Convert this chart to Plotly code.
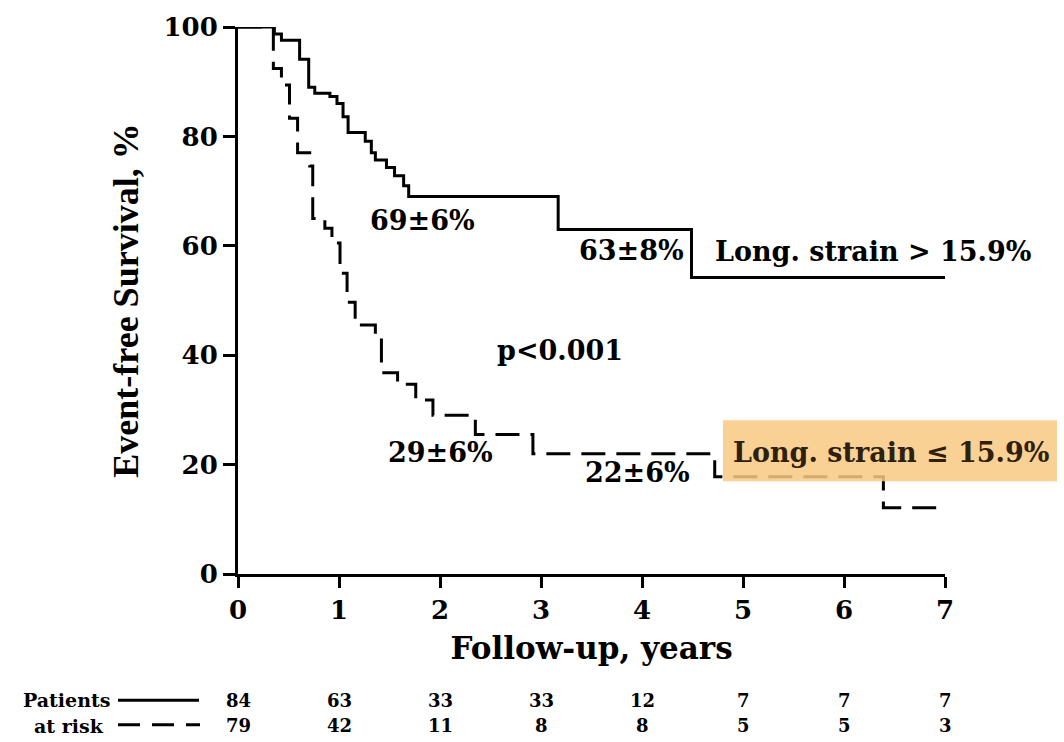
import plotly.graph_objects as go

# Kaplan-Meier step data (years, event-free survival %)
solid_t = [0, 0.36, 0.43, 0.61, 0.70, 0.76, 0.91, 0.98, 1.04, 1.09, 1.26, 1.32,
           1.36, 1.47, 1.55, 1.64, 1.69, 3.17, 4.49, 7.0]
solid_s = [100, 98.7, 97.6, 94.1, 89.0, 87.9, 87.3, 86.0, 83.6, 80.7, 79.1, 77.0,
           75.7, 74.3, 72.8, 71.0, 69.0, 63.0, 54.2, 54.2]

dashed_t = [0, 0.35, 0.43, 0.51, 0.59, 0.71, 0.74, 0.86, 0.93, 1.01, 1.08, 1.16,
            1.36, 1.42, 1.58, 1.76, 1.93, 2.35, 2.92, 4.72, 6.39, 7.0]
dashed_s = [100, 92.4, 89.4, 83.3, 77.0, 74.6, 65.0, 63.2, 60.5, 55.0, 49.7, 45.5,
            43.4, 36.8, 34.7, 31.8, 29.0, 25.5, 22.0, 17.8, 12.1, 12.1]

# Numbers at risk
risk_years = [0, 1, 2, 3, 4, 5, 6, 7]
risk_solid = [84, 63, 33, 33, 12, 7, 7, 7]
risk_dashed = [79, 42, 11, 8, 8, 5, 5, 3]

x_ticks = [0, 1, 2, 3, 4, 5, 6, 7]
y_ticks = [0, 20, 40, 60, 80, 100]

SERIF = "DejaVu Serif"
TITLE_FONT = "Liberation Serif"

# plot-area geometry in pixels
W, H = 1064, 742
L, R, T, B = 238, 945, 19, 574


def px_x(p):
    return (p - L) / (R - L)


def px_y(p):
    return (B - p) / (B - T)


fig = go.Figure()

fig.add_trace(go.Scatter(
    x=solid_t, y=solid_s, mode="lines", line_shape="hv",
    line=dict(color="black", width=3), cliponaxis=False,
    name="Long. strain > 15.9%", showlegend=False))

fig.add_trace(go.Scatter(
    x=dashed_t, y=dashed_s, mode="lines", line_shape="hv",
    line=dict(color="black", width=3, dash="24px,11px"), cliponaxis=False,
    name="Long. strain ≤ 15.9%", showlegend=False))

ann = []
tfont = dict(family=SERIF, size=27, color="black", weight="bold")


def label(text, x, y, xanchor="center", font=tfont):
    ann.append(dict(text=text, x=x, y=y, xref="x", yref="y", showarrow=False,
                    xanchor=xanchor, yanchor="middle", font=font))


label("69±6%", 1.83, 64.7)
label("63±8%", 3.90, 59.1)
label("Long. strain > 15.9%", 4.70, 58.9, xanchor="left")
label("p<0.001", 3.19, 40.9)
label("29±6%", 2.0, 22.2)
label("22±6%", 3.96, 18.5)
label("Long. strain ≤ 15.9%", 4.88, 22.2, xanchor="left",
      font=dict(family=SERIF, size=27, color="#2e200c", weight="bold"))

# numbers-at-risk table
nfont = dict(family=SERIF, size=18, color="black", weight="bold")
for yr, a, b in zip(risk_years, risk_solid, risk_dashed):
    ann.append(dict(text=str(a), x=yr, y=px_y(702), xref="x", yref="paper",
                    showarrow=False, xanchor="center", yanchor="middle", font=nfont))
    ann.append(dict(text=str(b), x=yr, y=px_y(728), xref="x", yref="paper",
                    showarrow=False, xanchor="center", yanchor="middle", font=nfont))
ann.append(dict(text="Patients", x=px_x(112), y=px_y(702), xref="paper", yref="paper",
                showarrow=False, xanchor="right", yanchor="middle",
                font=dict(family=SERIF, size=19, color="black", weight="bold")))
ann.append(dict(text="at risk", x=px_x(106), y=px_y(728), xref="paper", yref="paper",
                showarrow=False, xanchor="right", yanchor="middle",
                font=dict(family=SERIF, size=19, color="black", weight="bold")))

shapes = [
    # highlight behind the lower-curve label (reaches past the plot edge)
    dict(type="rect", xref="paper", yref="paper", x0=px_x(723), x1=px_x(1057),
         y0=px_y(480), y1=px_y(418),
         fillcolor="#F9C983", opacity=0.85, line=dict(width=0), layer="above"),
    # line-style keys of the at-risk table
    dict(type="line", xref="paper", yref="paper", x0=px_x(118), x1=px_x(199),
         y0=px_y(702), y1=px_y(702), line=dict(color="black", width=3)),
    dict(type="line", xref="paper", yref="paper", x0=px_x(118), x1=px_x(200),
         y0=px_y(727), y1=px_y(727), line=dict(color="black", width=3, dash="22px,12px")),
]

fig.update_layout(
    width=W, height=H,
    margin=dict(l=L, r=W - R, t=T, b=H - B),
    paper_bgcolor="white", plot_bgcolor="white",
    annotations=ann, shapes=shapes,
    xaxis=dict(range=[0, 7], tickvals=x_ticks, showgrid=False, zeroline=False,
               showline=True, linecolor="black", linewidth=3,
               ticks="outside", ticklen=11, tickwidth=3, tickcolor="black",
               tickfont=dict(family=SERIF, size=26, color="black", weight="bold"),
               title=dict(text="Follow-up, years", standoff=14,
                          font=dict(family=SERIF, size=31, color="black", weight="bold"))),
    yaxis=dict(range=[0, 100], tickvals=y_ticks, showgrid=False, zeroline=False,
               showline=True, linecolor="black", linewidth=3,
               ticks="outside", ticklen=12, tickwidth=3, tickcolor="black",
               tickfont=dict(family=SERIF, size=26, color="black", weight="bold"),
               title=dict(text="Event-free Survival, %", standoff=14,
                          font=dict(family=TITLE_FONT, size=36, color="black", weight="bold"))),
)

fig.write_html("out.html")
